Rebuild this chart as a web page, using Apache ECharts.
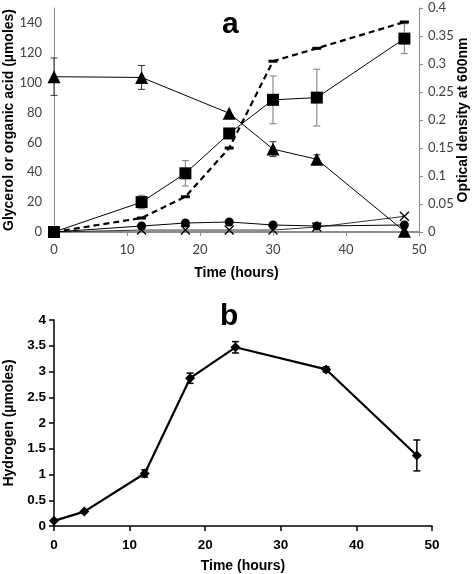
<!DOCTYPE html>
<html><head><meta charset="utf-8">
<script src="https://cdn.jsdelivr.net/npm/echarts@6/dist/echarts.min.js"></script>
<style>html,body{margin:0;padding:0;background:#fff}#c{width:473px;height:574px}</style>
</head><body><div id="c"></div>
<script>
// ---- Panel a data ----
const timeA = [0, 12, 18, 24, 30, 36, 48];
const glycerolTime = [0, 12, 24, 30, 36, 48];
const glycerol = [104, 103.5, 79.5, 55.5, 48.7, 0.5];
const glycerolErr = [12.5, 8, 0, 5, 3, 0];
const acidSquare = [0, 20, 39.3, 66, 88.5, 90, 129.5];
const acidSquareErr = [0, 4.5, 8.5, 0, 16, 19, 10];
const acidCircle = [0, 4, 6, 6.7, 4.7, 4, 4.7];
const acidCross = [0, 1.3, 1.3, 1.3, 1.3, 3.3, 10.5];
const od600 = [0, 0.025, 0.063, 0.15, 0.305, 0.328, 0.375];
// ---- Panel b data ----
const timeB = [0, 4, 12, 18, 24, 36, 48];
const hydrogen = [0.10, 0.28, 1.02, 2.87, 3.47, 3.04, 1.37];
const hydrogenErr = [0, 0, 0.07, 0.1, 0.11, 0.05, 0.3];

const zip = (xs, ys) => xs.map((x, i) => [x, ys[i]]);
const errData = (xs, ys, es) => xs.map((x, i) => [x, ys[i] - es[i], ys[i] + es[i]]).filter((d, i) => es[i] > 0);

function errSeries(data, xi, yi, color, lw) {
  return {
    type: 'custom', xAxisIndex: xi, yAxisIndex: yi, data: data, z: 1, silent: true,
    encode: { x: 0, y: [1, 2] },
    renderItem: function (params, api) {
      const x = api.value(0), lo = api.value(1), hi = api.value(2);
      const p1 = api.coord([x, hi]), p2 = api.coord([x, lo]);
      const w = 3.5;
      const st = { stroke: color, lineWidth: lw };
      return { type: 'group', children: [
        { type: 'line', shape: { x1: p1[0], y1: p1[1], x2: p2[0], y2: p2[1] }, style: st },
        { type: 'line', shape: { x1: p1[0] - w, y1: p1[1], x2: p1[0] + w, y2: p1[1] }, style: st },
        { type: 'line', shape: { x1: p2[0] - w, y1: p2[1], x2: p2[0] + w, y2: p2[1] }, style: st }
      ] };
    }
  };
}

const tickFontA = { fontFamily: 'Lato', fontSize: 13, color: '#404040' };
const titleFont = { fontFamily: 'Liberation Sans', fontWeight: 'bold', fontSize: 14, color: '#000' };
const titleFontX = { fontFamily: 'Liberation Sans', fontWeight: 'bold', fontSize: 14, color: '#000' };
const tickFontB = { fontFamily: 'Liberation Sans', fontWeight: 'bold', fontSize: 13.5, color: '#000' };
const crossPath = 'path://M0,0L10,10M10,0L0,10';

const chart = echarts.init(document.getElementById('c'), null, { renderer: 'canvas' });
chart.setOption({
  animation: false,
  backgroundColor: '#fff',
  title: [
    { text: 'a', left: 217, top: 5, textStyle: { fontFamily: 'Liberation Sans', fontWeight: 'bold', fontSize: 30, color: '#000' } },
    { text: 'b', left: 215, top: 297, textStyle: { fontFamily: 'Liberation Sans', fontWeight: 'bold', fontSize: 30, color: '#000' } }
  ],
  grid: [
    { left: 54, right: 54, top: 8, height: 224, containLabel: false, outerBoundsMode: 'none' },
    { left: 54, right: 41, top: 320, height: 206, containLabel: false, outerBoundsMode: 'none' }
  ],
  xAxis: [
    { gridIndex: 0, type: 'value', min: 0, max: 50, interval: 10,
      name: 'Time (hours)', nameLocation: 'middle', nameGap: 34, nameMoveOverlap: false, nameTextStyle: titleFontX,
      axisLine: { onZero: false, lineStyle: { color: '#8c8c8c', width: 2 } },
      axisTick: { show: true, length: 4, lineStyle: { color: '#8c8c8c' } },
      axisLabel: Object.assign({ margin: 11 }, tickFontA), splitLine: { show: false } },
    { gridIndex: 1, type: 'value', min: 0, max: 50, interval: 10,
      name: 'Time (hours)', nameLocation: 'middle', nameGap: 33, nameMoveOverlap: false, nameTextStyle: titleFontX,
      axisLine: { onZero: false, lineStyle: { color: '#000', width: 1.5 } },
      axisTick: { show: true, length: 5, lineStyle: { color: '#000', width: 1.5 } },
      axisLabel: Object.assign({ margin: 12 }, tickFontB), splitLine: { show: false } }
  ],
  yAxis: [
    { gridIndex: 0, type: 'value', min: 0, max: 150, interval: 20, position: 'left',
      name: 'Glycerol or organic acid (µmoles)', nameLocation: 'middle', nameGap: 38, nameMoveOverlap: false, nameTextStyle: titleFont,
      axisLine: { show: true, lineStyle: { color: '#8c8c8c', width: 1 } },
      axisTick: { show: false },
      axisLabel: Object.assign({ margin: 12, showMaxLabel: false }, tickFontA), splitLine: { show: false } },
    { gridIndex: 0, type: 'value', min: 0, max: 0.4, interval: 0.05, position: 'right',
      name: 'Optical density at 600nm', nameLocation: 'middle', nameGap: 37, nameRotate: 90, nameMoveOverlap: false, nameTextStyle: titleFont,
      axisLine: { show: true, lineStyle: { color: '#8c8c8c', width: 1 } },
      axisTick: { show: true, length: 4, lineStyle: { color: '#8c8c8c' } },
      axisLabel: Object.assign({ margin: 9 }, tickFontA), splitLine: { show: false } },
    { gridIndex: 1, type: 'value', min: 0, max: 4, interval: 0.5,
      name: 'Hydrogen (µmoles)', nameLocation: 'middle', nameGap: 38, nameMoveOverlap: false, nameTextStyle: titleFontX,
      axisLine: { show: true, lineStyle: { color: '#000', width: 1.5 } },
      axisTick: { show: true, length: 5, lineStyle: { color: '#000', width: 1.5 } },
      axisLabel: Object.assign({ margin: 8 }, tickFontB), splitLine: { show: false } }
  ],
  series: [
    errSeries(errData(glycerolTime, glycerol, glycerolErr), 0, 0, '#333', 1),
    errSeries(errData(timeA, acidSquare, acidSquareErr), 0, 0, '#8c8c8c', 1.2),
    { type: 'line', xAxisIndex: 0, yAxisIndex: 1, data: zip(timeA, od600), z: 3,
      lineStyle: { color: '#000', width: 2.2, type: [6, 4] },
      symbol: 'rect', symbolSize: [9, 3], itemStyle: { color: '#000' } },
    { type: 'line', xAxisIndex: 0, yAxisIndex: 0, data: zip(timeA, acidCross), z: 3,
      lineStyle: { color: '#333', width: 1 },
      symbol: crossPath, symbolSize: 9, itemStyle: { color: '#fff', borderColor: '#000', borderWidth: 1.3 } },
    { type: 'line', xAxisIndex: 0, yAxisIndex: 0, data: zip(timeA, acidCircle), z: 4,
      lineStyle: { color: '#000', width: 1 },
      symbol: 'circle', symbolSize: 9, itemStyle: { color: '#000' } },
    { type: 'line', xAxisIndex: 0, yAxisIndex: 0, data: zip(timeA, acidSquare), z: 5,
      lineStyle: { color: '#000', width: 1 },
      symbol: 'rect', symbolSize: 12, itemStyle: { color: '#000' } },
    { type: 'line', xAxisIndex: 0, yAxisIndex: 0, data: zip(glycerolTime, glycerol), z: 5,
      lineStyle: { color: '#000', width: 1 },
      symbol: 'triangle', symbolSize: 13, itemStyle: { color: '#000' } },
    errSeries(errData(timeB, hydrogen, hydrogenErr), 1, 2, '#000', 1.5),
    { type: 'line', xAxisIndex: 1, yAxisIndex: 2, data: zip(timeB, hydrogen), z: 5,
      lineStyle: { color: '#000', width: 2.2 },
      symbol: 'diamond', symbolSize: 10, itemStyle: { color: '#000' } }
  ]
});
</script></body></html>
